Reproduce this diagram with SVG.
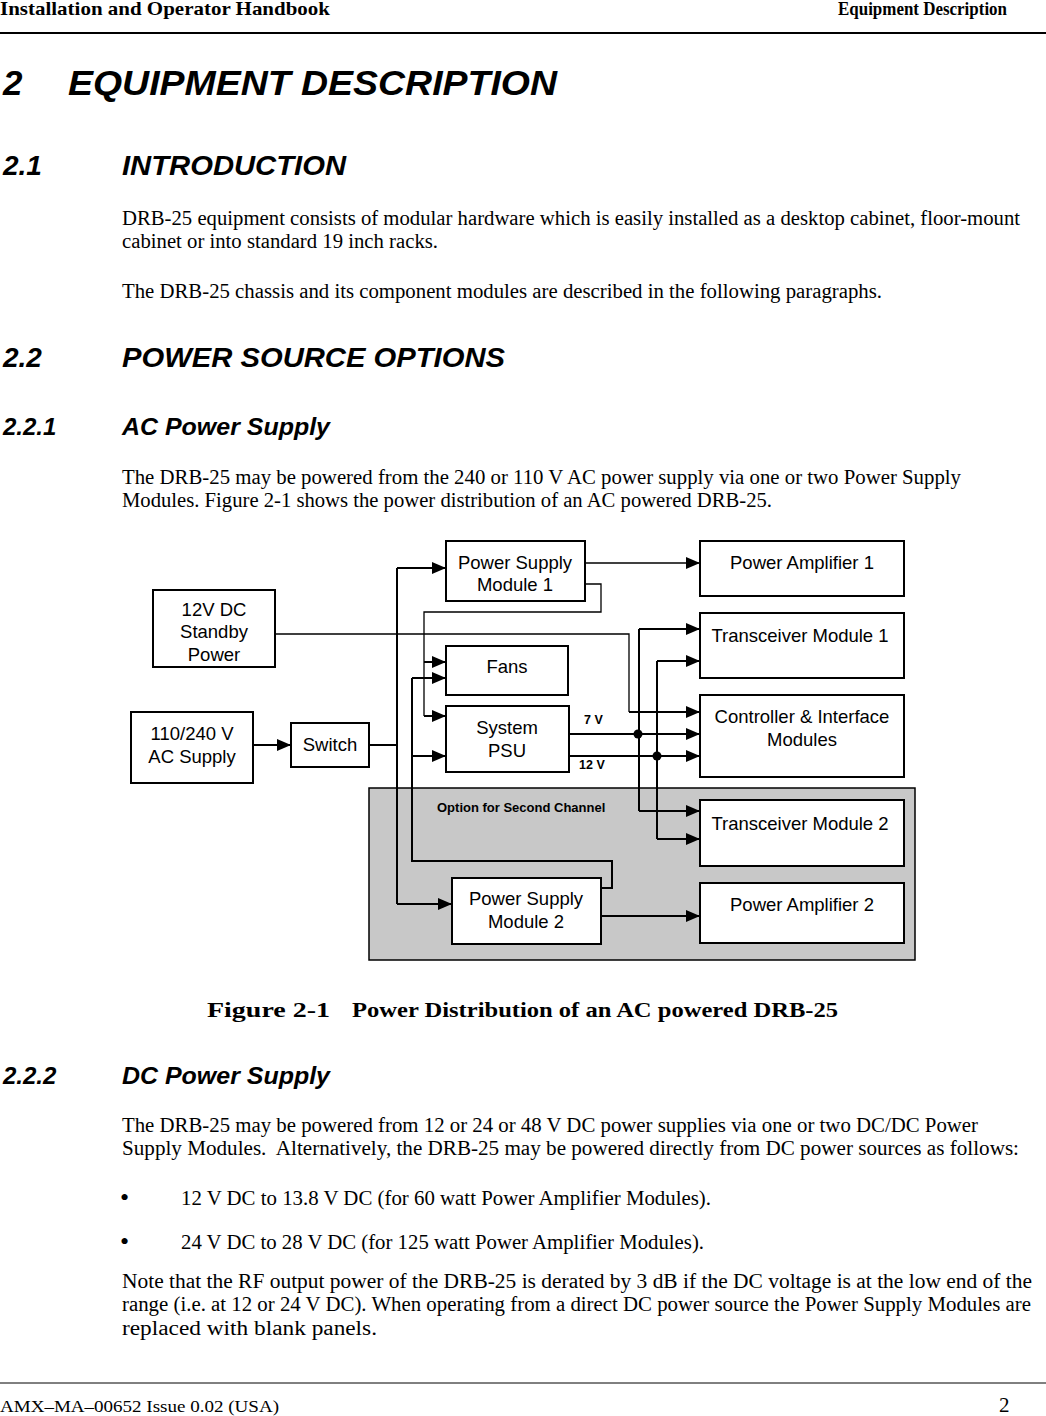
<svg xmlns="http://www.w3.org/2000/svg" width="1046" height="1416" viewBox="0 0 1046 1416">
<style>
.body{font-family:"Liberation Serif","Times New Roman",serif;font-size:20.5px;fill:#000}
.hdr{font-family:"Liberation Serif","Times New Roman",serif;font-size:19px;font-weight:bold;fill:#000}
.h{font-family:"Liberation Sans",Arial,sans-serif;font-weight:bold;font-style:italic;fill:#000}
.box{fill:#fff;stroke:#000;stroke-width:2}
.lbl{font-family:"Liberation Sans",Arial,sans-serif;font-size:18.5px;fill:#000;text-anchor:middle}
.sm{font-family:"Liberation Sans",Arial,sans-serif;font-weight:bold;fill:#000}
.w{fill:none;stroke:#000;stroke-width:2}
.t{fill:none;stroke:#000;stroke-width:1.3}
.a{marker-end:url(#arr)}
</style>
<defs>
<marker id="arr" markerUnits="userSpaceOnUse" markerWidth="14" markerHeight="12" refX="14" refY="6" orient="auto">
<path d="M0,0 L14,6 L0,12 z" fill="#000"/>
</marker>
</defs>
<rect width="1046" height="1416" fill="#fff"/>

<!-- page header -->
<text class="hdr" x="0" y="15" textLength="330" lengthAdjust="spacingAndGlyphs">Installation and Operator Handbook</text>
<text class="hdr" x="838" y="15" textLength="169" lengthAdjust="spacingAndGlyphs">Equipment Description</text>
<line x1="0" y1="33" x2="1046" y2="33" stroke="#000" stroke-width="2"/>

<text class="h" x="3" y="95" font-size="35">2</text>
<text class="h" x="68" y="95" font-size="35" textLength="489" lengthAdjust="spacingAndGlyphs">EQUIPMENT DESCRIPTION</text>

<text class="h" x="3" y="175" font-size="28">2.1</text>
<text class="h" x="122" y="175" font-size="28" textLength="224" lengthAdjust="spacingAndGlyphs">INTRODUCTION</text>
<text class="body" x="122" y="225" textLength="898" lengthAdjust="spacingAndGlyphs">DRB-25 equipment consists of modular hardware which is easily installed as a desktop cabinet, floor-mount</text>
<text class="body" x="122" y="248" textLength="316" lengthAdjust="spacingAndGlyphs">cabinet or into standard 19 inch racks.</text>
<text class="body" x="122" y="298" textLength="760" lengthAdjust="spacingAndGlyphs">The DRB-25 chassis and its component modules are described in the following paragraphs.</text>

<text class="h" x="3" y="367" font-size="28">2.2</text>
<text class="h" x="122" y="367" font-size="28" textLength="383" lengthAdjust="spacingAndGlyphs">POWER SOURCE OPTIONS</text>

<text class="h" x="3" y="435" font-size="24">2.2.1</text>
<text class="h" x="122" y="435" font-size="24" textLength="208" lengthAdjust="spacingAndGlyphs">AC Power Supply</text>
<text class="body" x="122" y="484" textLength="839" lengthAdjust="spacingAndGlyphs">The DRB-25 may be powered from the 240 or 110 V AC power supply via one or two Power Supply</text>
<text class="body" x="122" y="507" textLength="650" lengthAdjust="spacingAndGlyphs">Modules. Figure 2-1 shows the power distribution of an AC powered DRB-25.</text>

<!-- diagram -->
<rect id="second-channel" x="369" y="788" width="546" height="172" fill="#c8c8c8" stroke="#000" stroke-width="1.5"/>
<text class="sm" x="437" y="812" font-size="13">Option for Second Channel</text>

<g id="connectors">
<path class="w a" d="M253,745 H291"/>
<path class="w" d="M369,745 H397"/>
<path class="w" d="M397,568 V904"/>
<path class="w a" d="M397,568 H446"/>
<path class="w a" d="M397,904 H452"/>
<path class="t a" d="M585,563 H700"/>
<path class="t" d="M585,584 H601 V612 H424 V716"/>
<path class="w a" d="M424,662 H446"/>
<path class="w a" d="M424,716 H446"/>
<path class="w" d="M601,888 H612 V861 H412 V678"/>
<path class="w a" d="M412,678 H446"/>
<path class="w a" d="M412,756 H446"/>
<path class="t" d="M275,634 H629 V712"/>
<path class="w a" d="M629,712 H700"/>
<path class="w a" d="M569,734 H700"/>
<path class="w a" d="M569,756 H700"/>
<path class="w" d="M639,629 V811"/>
<path class="w a" d="M639,629 H700"/>
<path class="w a" d="M639,811 H700"/>
<path class="w" d="M657,661 V839"/>
<path class="w a" d="M657,661 H700"/>
<path class="w a" d="M657,839 H700"/>
<path class="w a" d="M601,916 H700"/>
<circle cx="638" cy="734" r="4.5" fill="#000"/>
<circle cx="657" cy="756" r="4.5" fill="#000"/>
</g>
<text class="sm" x="584" y="724" font-size="12.5">7 V</text>
<text class="sm" x="579" y="769" font-size="12.5">12 V</text>

<g id="psm1"><rect class="box" x="446" y="541" width="139" height="60"/><text class="lbl" x="515" y="569">Power Supply</text><text class="lbl" x="515" y="591">Module 1</text></g>
<g id="pa1"><rect class="box" x="700" y="541" width="204" height="55"/><text class="lbl" x="802" y="569">Power Amplifier 1</text></g>
<g id="standby"><rect class="box" x="153" y="590" width="122" height="77"/><text class="lbl" x="214" y="616">12V DC</text><text class="lbl" x="214" y="638">Standby</text><text class="lbl" x="214" y="661">Power</text></g>
<g id="tm1"><rect class="box" x="700" y="613" width="204" height="65"/><text class="lbl" x="800" y="642">Transceiver Module 1</text></g>
<g id="fans"><rect class="box" x="446" y="646" width="122" height="49"/><text class="lbl" x="507" y="673">Fans</text></g>
<g id="syspsu"><rect class="box" x="446" y="706" width="123" height="66"/><text class="lbl" x="507" y="734">System</text><text class="lbl" x="507" y="757">PSU</text></g>
<g id="ctrl"><rect class="box" x="700" y="695" width="204" height="82"/><text class="lbl" x="802" y="723">Controller &amp; Interface</text><text class="lbl" x="802" y="746">Modules</text></g>
<g id="ac"><rect class="box" x="131" y="712" width="122" height="71"/><text class="lbl" x="192" y="740">110/240 V</text><text class="lbl" x="192" y="763">AC Supply</text></g>
<g id="switch"><rect class="box" x="291" y="723" width="78" height="44"/><text class="lbl" x="330" y="751">Switch</text></g>
<g id="tm2"><rect class="box" x="700" y="800" width="204" height="66"/><text class="lbl" x="800" y="830">Transceiver Module 2</text></g>
<g id="pa2"><rect class="box" x="700" y="883" width="204" height="60"/><text class="lbl" x="802" y="911">Power Amplifier 2</text></g>
<g id="psm2"><rect class="box" x="452" y="878" width="149" height="66"/><text class="lbl" x="526" y="905">Power Supply</text><text class="lbl" x="526" y="928">Module 2</text></g>

<text class="hdr" x="207" y="1017" textLength="123" lengthAdjust="spacingAndGlyphs" style="font-size:22px">Figure 2-1</text>
<text class="hdr" x="352" y="1017" textLength="486" lengthAdjust="spacingAndGlyphs" style="font-size:22px">Power Distribution of an AC powered DRB-25</text>

<text class="h" x="3" y="1084" font-size="24">2.2.2</text>
<text class="h" x="122" y="1084" font-size="24" textLength="208" lengthAdjust="spacingAndGlyphs">DC Power Supply</text>
<text class="body" x="122" y="1132" textLength="856" lengthAdjust="spacingAndGlyphs">The DRB-25 may be powered from 12 or 24 or 48 V DC power supplies via one or two DC/DC Power</text>
<text class="body" x="122" y="1155" textLength="897" lengthAdjust="spacingAndGlyphs" xml:space="preserve">Supply Modules.  Alternatively, the DRB-25 may be powered directly from DC power sources as follows:</text>
<text class="body" x="120" y="1206" style="font-size:26px">•</text>
<text class="body" x="181" y="1205" textLength="530" lengthAdjust="spacingAndGlyphs">12 V DC to 13.8 V DC (for 60 watt Power Amplifier Modules).</text>
<text class="body" x="120" y="1250" style="font-size:26px">•</text>
<text class="body" x="181" y="1249" textLength="523" lengthAdjust="spacingAndGlyphs">24 V DC to 28 V DC (for 125 watt Power Amplifier Modules).</text>
<text class="body" x="122" y="1288" textLength="910" lengthAdjust="spacingAndGlyphs">Note that the RF output power of the DRB-25 is derated by 3 dB if the DC voltage is at the low end of the</text>
<text class="body" x="122" y="1311" textLength="909" lengthAdjust="spacingAndGlyphs">range (i.e. at 12 or 24 V DC). When operating from a direct DC power source the Power Supply Modules are</text>
<text class="body" x="122" y="1335" textLength="255" lengthAdjust="spacingAndGlyphs">replaced with blank panels.</text>

<line x1="0" y1="1383" x2="1046" y2="1383" stroke="#000" stroke-width="1"/>
<text class="body" x="0" y="1412" style="font-size:17px" textLength="279" lengthAdjust="spacingAndGlyphs">AMX–MA–00652 Issue 0.02 (USA)</text>
<text class="body" x="999" y="1412" style="font-size:21px">2</text>
</svg>
